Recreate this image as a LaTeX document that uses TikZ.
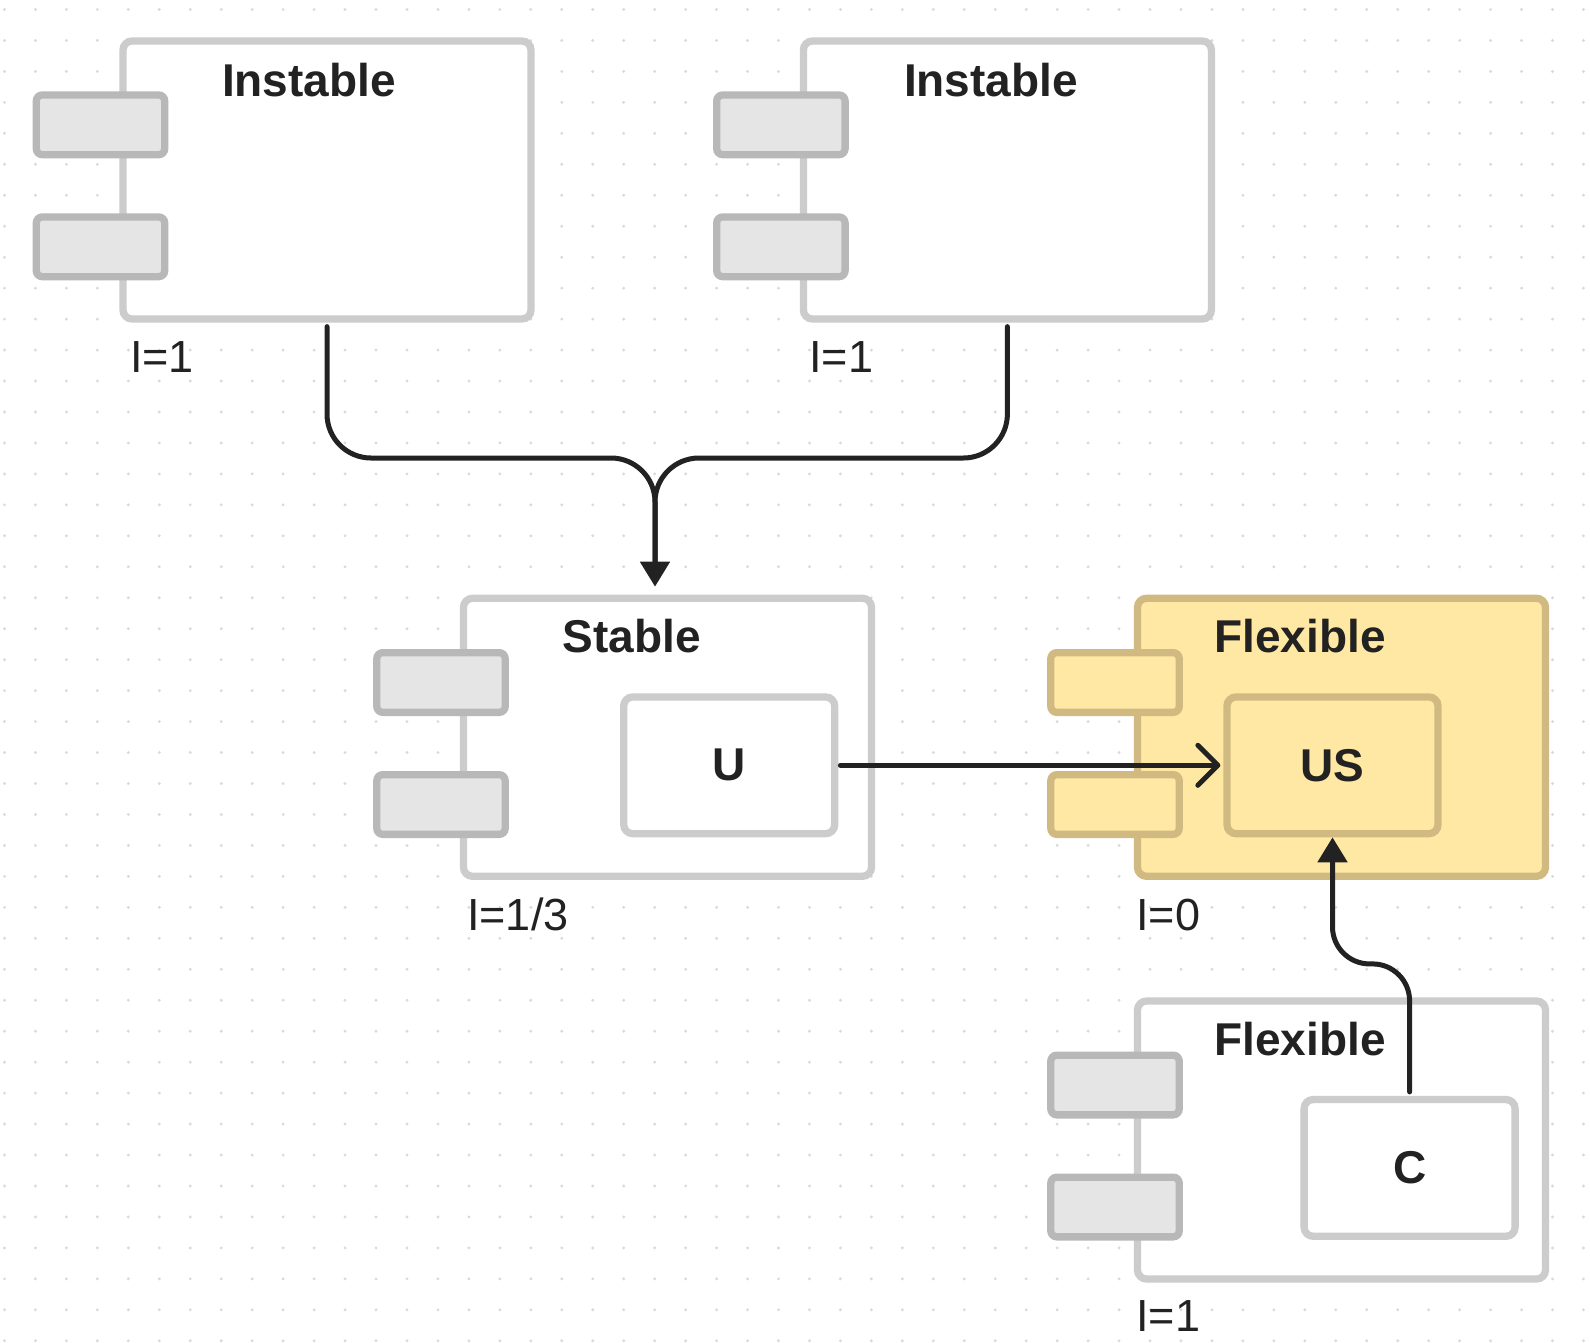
\documentclass[tikz,border=0pt]{standalone}
\usepackage{fontspec}
\setmainfont{Liberation Sans}
\usetikzlibrary{arrows.meta}
\definecolor{ink}{HTML}{222222}
\definecolor{edge}{HTML}{CCCCCC}
\definecolor{portfill}{HTML}{E5E5E5}
\definecolor{portedge}{HTML}{B8B8B8}
\definecolor{hlfill}{HTML}{FFE8A3}
\definecolor{hledge}{HTML}{D0BA82}
\definecolor{griddot}{HTML}{DADADA}

\begin{document}
\begin{tikzpicture}[x=1pt,y=-1pt,
  comp/.style={draw=edge, fill=white, line width=7.3pt, rounded corners=9pt,
    minimum width=408pt, minimum height=278pt, inner sep=0pt},
  port/.style={draw=portedge, fill=portfill, line width=7.3pt, rounded corners=6pt,
    minimum width=128.4pt, minimum height=59.7pt, inner sep=0pt},
  part/.style={draw=edge, fill=white, line width=7.3pt, rounded corners=9pt,
    minimum width=211pt, minimum height=136.7pt, inner sep=0pt,
    font=\fontsize{46}{50}\selectfont\bfseries, text=ink},
  hl/.style={draw=hledge, fill=hlfill},
  title/.style={anchor=base, inner sep=0pt, font=\fontsize{46}{50}\selectfont\bfseries, text=ink},
  level/.style={anchor=base west, inner sep=0pt, font=\fontsize{45}{50}\selectfont, text=ink},
  conn/.style={draw=ink, line width=5pt, line cap=round},
  filled tip/.style={-{Triangle[length=25pt,width=29pt]}},
  open tip/.style={-{Straight Barb[length=20pt,width=40pt,round]}},
]
% canvas and dot grid
\fill[white] (0,0) rectangle (1590,1342);
\useasboundingbox (0,0) rectangle (1590,1342);
\foreach \i in {0,...,51}
  \foreach \j in {0,...,43}
    \fill[griddot] (4.5+30.96*\i, 9.5+30.96*\j) circle (1.6pt);

% first Instable component
\node[comp] (inst1) at (327,180) {};
\node[port] (inst1a) at (100.5,124.8) {};
\node[port] (inst1b) at (100.5,246.8) {};
\node[title] (inst1t) at (309,96) {Instable};
\node[level] (inst1l) at (130,372) {I=1};

% second Instable component
\node[comp] (inst2) at (1007.4,180) {};
\node[port] (inst2a) at (780.9,124.8) {};
\node[port] (inst2b) at (780.9,246.8) {};
\node[title] (inst2t) at (991,96) {Instable};
\node[level] (inst2l) at (809,372) {I=1};

% Stable component
\node[comp] (stable) at (667.5,737.3) {};
\node[port] (stablea) at (441,682.5) {};
\node[port] (stableb) at (441,804.5) {};
\node[title] (stablet) at (632,652) {Stable};
\node[level] (stablel) at (467,930) {I=1/3};
\node[part] (U) at (729.2,765.3) {U};

% highlighted Flexible component
\node[comp,hl] (flexA) at (1341.5,737.3) {};
\node[port,hl] (flexAa) at (1115,682.5) {};
\node[port,hl] (flexAb) at (1115,804.5) {};
\node[title] (flexAt) at (1300,652) {Flexible};
\node[level] (flexAl) at (1136,930) {I=0};
\node[part,hl] (US) at (1332.5,765.3) {US};

% lower Flexible component
\node[comp] (flexB) at (1341.5,1140) {};
\node[port] (flexBa) at (1115,1085) {};
\node[port] (flexBb) at (1115,1207) {};
\node[title] (flexBt) at (1300,1055) {Flexible};
\node[level] (flexBl) at (1136,1331) {I=1};
\node[part] (C) at (1409.6,1167.9) {C};

% connectors
\coordinate (merge) at (655,458);
\draw[conn, rounded corners=44pt, shorten <=4pt, shorten >=30pt]
  (inst1.south) |- (merge) -- (merge |- stable.north);
\draw[conn, filled tip, rounded corners=44pt, shorten <=4pt, shorten >=8pt]
  (inst2.south) |- (merge) -- (merge |- stable.north);
\draw[conn, open tip, shorten <=2pt, shorten >=3pt] (U.east) -- (US.west);
\draw[conn, filled tip, rounded corners=37pt, shorten <=4pt]
  (C.north) -- ++(0,-132) -| (US.south);
\end{tikzpicture}
\end{document}
